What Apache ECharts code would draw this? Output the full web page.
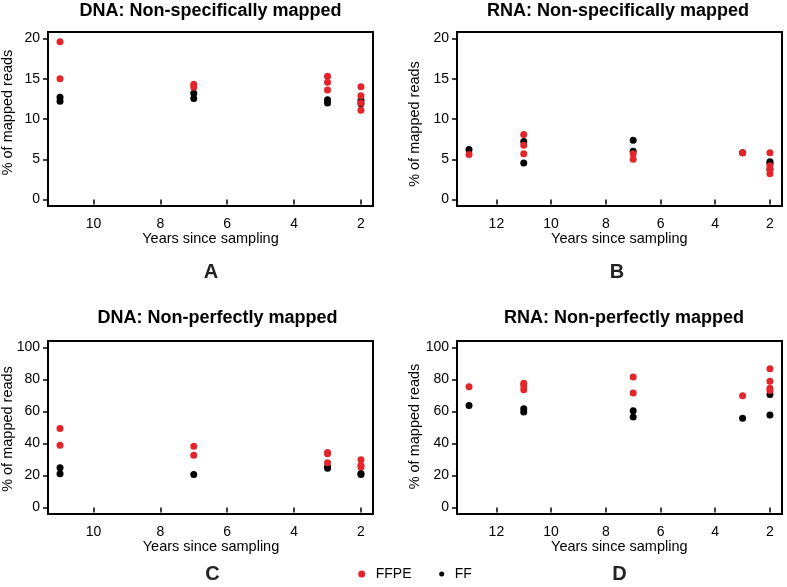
<!DOCTYPE html>
<html>
<head>
<meta charset="utf-8">
<script src="https://cdn.jsdelivr.net/npm/echarts@6/dist/echarts.min.js"></script>
<style>html,body{margin:0;padding:0;background:#fff}#c{width:787px;height:587px}</style>
</head>
<body>
<div id="c"></div>
<script>
// ---- data (years since sampling, % of mapped reads) ----
const dnaSpecFFPE = [[11,19.6],[11,15.0],[7,14.3],[7,13.95],[3,15.3],[3,14.55],[3,13.6],[2,14.0],[2,12.9],[2,11.1],[2,12.0]];
const dnaSpecFF   = [[11,12.7],[11,12.2],[7,13.2],[7,12.55],[3,12.4],[3,12.0],[2,12.3],[2,11.9]];
const rnaSpecFFPE = [[13,5.6],[11,8.07],[11,6.75],[11,5.7],[7,5.7],[7,5.0],[3,5.8],[2,5.8],[2,4.2],[2,3.7],[2,3.2]];
const rnaSpecFF   = [[13,6.2],[11,7.2],[11,4.55],[7,7.37],[7,6.0],[3,5.8],[2,4.7],[2,4.5],[2,3.8]];
const dnaPerfFFPE = [[11,49.3],[11,38.9],[7,38.3],[7,32.7],[3,34.4],[3,33.6],[3,28.0],[2,29.8],[2,26.3],[2,25.3]];
const dnaPerfFF   = [[11,24.8],[11,21.1],[7,20.7],[3,25.5],[3,24.6],[2,21.3],[2,20.7]];
const rnaPerfFFPE = [[13,75.4],[11,77.6],[11,76.0],[11,73.5],[7,81.6],[7,71.6],[3,69.8],[2,86.7],[2,78.9],[2,74.5],[2,73.1]];
const rnaPerfFF   = [[13,63.8],[11,61.7],[11,59.6],[7,60.5],[7,56.5],[3,55.7],[2,70.6],[2,57.8]];

// ---- tick labels ----
const xTicksDNA = [2,4,6,8,10];
const xTicksRNA = [2,4,6,8,10,12];
const yTicksSpec = [0,5,10,15,20];
const yTicksPerf = [0,20,40,60,80,100];

// ---- texts ----
const panelTitles = ['DNA: Non-specifically mapped','RNA: Non-specifically mapped','DNA: Non-perfectly mapped','RNA: Non-perfectly mapped'];
const panelLetters = ['A','B','C','D'];
const xName = 'Years since sampling';
const yName = '% of mapped reads';
const seriesNames = ['FFPE','FF'];

const FONT = "'Liberation Sans', Arial, Helvetica, sans-serif";
const RED = '#e3242b';
const BLACK = '#000000';

function rRange(lo, hi){ const p=(hi-lo)*0.04; return [lo-p, hi+p]; }

const grids = [
  {left:48, top:32, width:325, height:174},
  {left:457, top:32, width:325, height:174},
  {left:48, top:341, width:325, height:173},
  {left:457, top:341, width:325, height:173}
].map(g => Object.assign(g, {show:true, borderColor:'#000', borderWidth:2, backgroundColor:'transparent', containLabel:false, outerBoundsMode:'none'}));

function xAx(i, ticks, lo, hi){
  const r = rRange(lo,hi);
  return {type:'value', gridIndex:i, inverse:true, min:r[0], max:r[1],
    axisLine:{show:false}, splitLine:{show:false},
    axisTick:{show:true, length:5, inside:false, customValues:ticks, lineStyle:{color:'#000', width:1.5}},
    axisLabel:{customValues:ticks, margin:11, fontSize:14, color:'#000', fontFamily:FONT}};
}
function yAx(i, ticks, lo, hi){
  const r = rRange(lo,hi);
  return {type:'value', gridIndex:i, min:r[0], max:r[1],
    axisLine:{show:false}, splitLine:{show:false},
    axisTick:{show:true, length:5, inside:false, customValues:ticks, lineStyle:{color:'#000', width:1.5}},
    axisLabel:{customValues:ticks, margin:8, fontSize:14, color:'#000', fontFamily:FONT}};
}

const xAxes = [xAx(0,xTicksDNA,2,11), xAx(1,xTicksRNA,2,13), xAx(2,xTicksDNA,2,11), xAx(3,xTicksRNA,2,13)];
const yAxes = [yAx(0,yTicksSpec,0,20), yAx(1,yTicksSpec,0,20), yAx(2,yTicksPerf,0,100), yAx(3,yTicksPerf,0,100)];

const panelData = [[dnaSpecFFPE,dnaSpecFF],[rnaSpecFFPE,rnaSpecFF],[dnaPerfFFPE,dnaPerfFF],[rnaPerfFFPE,rnaPerfFF]];
const series = [];
panelData.forEach((pd,i)=>{
  series.push({name:seriesNames[1], type:'scatter', xAxisIndex:i, yAxisIndex:i, data:pd[1], symbol:'circle', symbolSize:7, itemStyle:{color:BLACK, opacity:1}, emphasis:{disabled:true}, z:2});
  series.push({name:seriesNames[0], type:'scatter', xAxisIndex:i, yAxisIndex:i, data:pd[0], symbol:'circle', symbolSize:7, itemStyle:{color:RED, opacity:1}, emphasis:{disabled:true}, z:3});
});

const titlePos = [[210.5,11],[618,11],[217.5,318.5],[624,318.5]];
const letterPos = [[211,272],[617,272],[212.5,574.5],[619.5,574.5]];
const xNamePos = [[210.5,239],[619.3,239],[211,547],[619.3,547]];
const yNamePos = [[8,112.5],[414.5,124],[8,429],[414.5,426.5]];

const graphic = [];
for (let i=0;i<4;i++){
  graphic.push({type:'text', x:titlePos[i][0], y:titlePos[i][1], style:{text:panelTitles[i], font:'bold 18px '+FONT, fill:'#000', align:'center', verticalAlign:'middle', textAlign:'center', textVerticalAlign:'middle'}});
  graphic.push({type:'text', x:letterPos[i][0], y:letterPos[i][1], style:{text:panelLetters[i], font:'bold 20px '+FONT, fill:'#222', align:'center', verticalAlign:'middle', textAlign:'center', textVerticalAlign:'middle'}});
  graphic.push({type:'text', x:xNamePos[i][0], y:xNamePos[i][1], style:{text:xName, font:'14.5px '+FONT, fill:'#000', align:'center', verticalAlign:'middle', textAlign:'center', textVerticalAlign:'middle'}});
  graphic.push({type:'text', x:yNamePos[i][0], y:yNamePos[i][1], rotation:Math.PI/2, style:{text:yName, font:'14.5px '+FONT, fill:'#000', align:'center', verticalAlign:'middle', textAlign:'center', textVerticalAlign:'middle'}});
}

const chart = echarts.init(document.getElementById('c'), null, {renderer:'canvas'});
chart.setOption({
  animation:false,
  backgroundColor:'#fff',
  grid:grids,
  xAxis:xAxes,
  yAxis:yAxes,
  series:series,
  legend:[
    {data:[{name:'FFPE', icon:'circle', itemStyle:{color:RED}}], left:358.2, top:567, itemWidth:18, itemHeight:7, itemGap:0, selectedMode:false, textStyle:{fontSize:14, color:'#000', fontFamily:FONT}, padding:0},
    {data:[{name:'FF', icon:'circle', itemStyle:{color:BLACK}}], left:439.2, top:567, itemWidth:16, itemHeight:5, itemGap:0, selectedMode:false, textStyle:{fontSize:14, color:'#000', fontFamily:FONT}, padding:0}
  ],
  graphic:graphic
});
</script>
</body>
</html>
